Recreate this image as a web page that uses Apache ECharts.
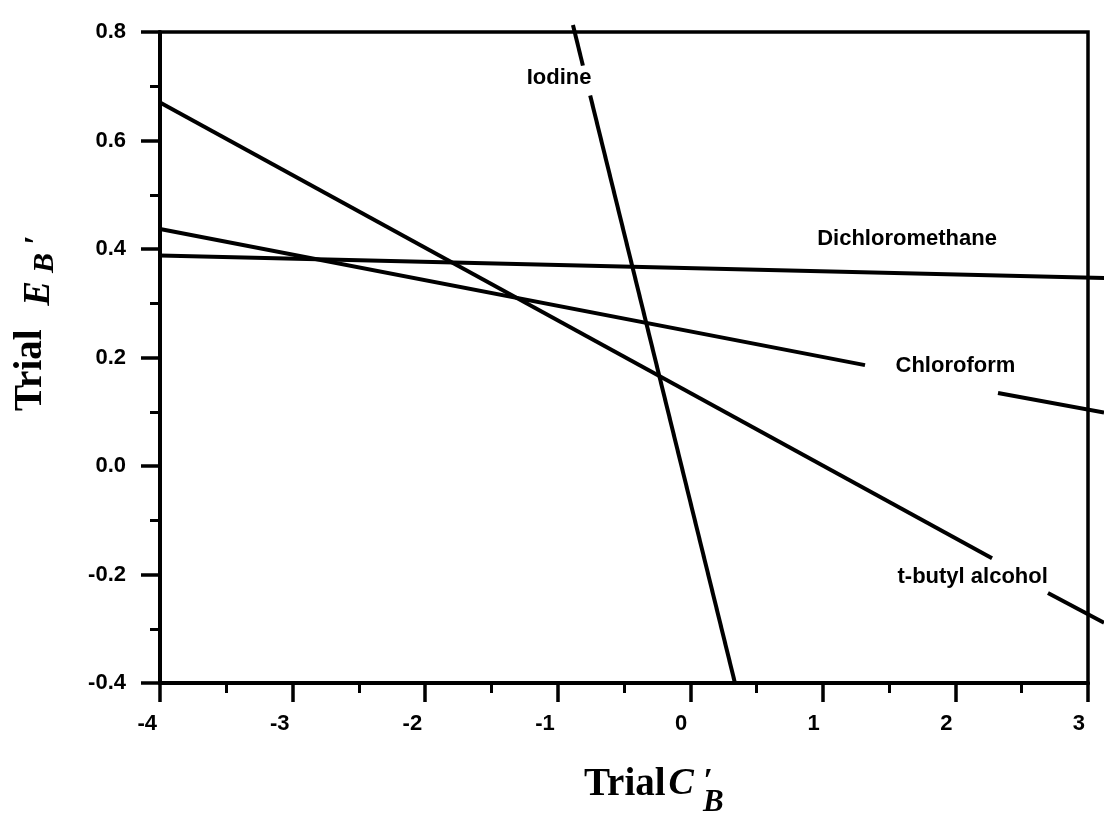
<!DOCTYPE html>
<html><head><meta charset="utf-8">
<script src="https://cdn.jsdelivr.net/npm/echarts@6/dist/echarts.min.js"></script>
<style>html,body{margin:0;padding:0;background:#fff}#c{width:1104px;height:813px}</style>
</head><body><div id="c"></div>
<script>
// axis ranges and tick labels
const xMin = -4, xMax = 3, xStep = 1;
const yMin = -0.4, yMax = 0.8, yStep = 0.2;
const xTickLabels = ['-4', '-3', '-2', '-1', '0', '1', '2', '3'];
const yTickLabels = ['-0.4', '-0.2', '0.0', '0.2', '0.4', '0.6', '0.8'];

// series (straight lines, with gaps (null) where the labels sit)
const seriesNames = ['Iodine', 'Dichloromethane', 'Chloroform', 't-butyl alcohol'];
const iodine = [[-0.885, 0.813], [-0.81, 0.738], [-0.78, null], [-0.755, 0.683], [0.337, -0.4]];
const dichloromethane = [[-4, 0.388], [3.121, 0.3465]];
const chloroform = [[-4, 0.437], [1.318, 0.186], [1.8, null], [2.321, 0.1346], [3.121, 0.0986]];
const tButylAlcohol = [[-4, 0.670], [2.276, -0.170], [2.5, null], [2.698, -0.234], [3.121, -0.289]];

// label anchor positions (data coordinates)
const labelX = [-0.99, 1.635, 2.0, 2.13];
const labelY = [0.715, 0.418, 0.184, -0.205];

const lineData = [iodine, dichloromethane, chloroform, tButylAlcohol];
const sans = '"Liberation Sans", Arial, Helvetica, sans-serif';
const serif = '"Liberation Serif", "Times New Roman", serif';

function splitSegments(arr) {
  const segs = [];
  let cur = [];
  arr.forEach(p => {
    if (p[1] == null) { if (cur.length > 1) segs.push(cur); cur = []; }
    else cur.push(p);
  });
  if (cur.length > 1) segs.push(cur);
  return segs;
}

const chart = echarts.init(document.getElementById('c'), null, {renderer: 'canvas'});

const lineSeries = lineData.map((d, i) => ({
  name: seriesNames[i],
  type: 'lines',
  coordinateSystem: 'cartesian2d',
  polyline: true,
  clip: false,
  silent: true,
  data: splitSegments(d).map(s => ({coords: s})),
  lineStyle: {color: '#000', width: 4, opacity: 1, cap: 'butt'},
  z: 3
}));

const labelSeries = {
  type: 'scatter',
  silent: true,
  symbolSize: 0,
  itemStyle: {opacity: 1, color: '#000'},
  data: seriesNames.map((n, i) => ({name: n, value: [labelX[i], labelY[i]]})),
  label: {
    show: true,
    position: 'inside',
    formatter: p => p.name,
    color: '#000',
    opacity: 1,
    textBorderWidth: 0,
    fontFamily: sans,
    fontWeight: 'bold',
    fontSize: 22
  },
  z: 4
};

const option = {
  backgroundColor: '#fff',
  animation: false,
  grid: {left: 160, right: 16, top: 32, bottom: 130, show: true, borderColor: '#000', borderWidth: 3.5, backgroundColor: 'transparent'},
  xAxis: {
    type: 'value', min: xMin, max: xMax, interval: xStep,
    axisLine: {show: true, onZero: false, lineStyle: {color: '#000', width: 4}},
    axisTick: {show: true, inside: false, length: 19, lineStyle: {color: '#000', width: 3.5}},
    minorTick: {show: true, splitNumber: 2, length: 10, lineStyle: {color: '#000', width: 3}},
    splitLine: {show: false},
    axisLabel: {
      margin: 30, color: '#000', fontFamily: sans, fontWeight: 'bold', fontSize: 22,
      align: 'right', padding: [0, 3, 0, 0],
      formatter: v => xTickLabels[Math.round((v - xMin) / xStep)]
    }
  },
  yAxis: {
    type: 'value', min: yMin, max: yMax, interval: yStep,
    axisLine: {show: true, onZero: false, lineStyle: {color: '#000', width: 4}},
    axisTick: {show: true, inside: false, length: 19, lineStyle: {color: '#000', width: 3.5}},
    minorTick: {show: true, splitNumber: 2, length: 10, lineStyle: {color: '#000', width: 3}},
    splitLine: {show: false},
    axisLabel: {
      margin: 34, color: '#000', fontFamily: sans, fontWeight: 'bold', fontSize: 22,
      formatter: v => yTickLabels[Math.round((v - yMin) / yStep)]
    }
  },
  graphic: [
    {
      type: 'text', x: 584, y: 765, silent: true,
      style: {
        text: '{t|Trial}{c|C}{g| }{p|′}{s|B}',
        align: 'left', verticalAlign: 'top', fill: '#000',
        rich: {
          t: {fontFamily: serif, fontWeight: 'bold', fontSize: 39, lineHeight: 42, verticalAlign: 'top', fill: '#000'},
          c: {fontFamily: serif, fontWeight: 'bold', fontStyle: 'italic', fontSize: 38, lineHeight: 42, verticalAlign: 'top', padding: [0, 0, 0, 3], fill: '#000'},
          g: {fontFamily: serif, fontSize: 10, width: 9, lineHeight: 10, verticalAlign: 'top', fill: '#000'},
          p: {fontFamily: serif, fontWeight: 'bold', fontStyle: 'italic', fontSize: 34, lineHeight: 20, width: 0, align: 'left', verticalAlign: 'top', padding: [0, 0, 0, 0], fill: '#000'},
          s: {fontFamily: serif, fontWeight: 'bold', fontStyle: 'italic', fontSize: 31, lineHeight: 30, padding: [22, 0, 0, 0], verticalAlign: 'top', fill: '#000'}
        }
      }
    },
    {
      type: 'text', x: 11, y: 411, rotation: Math.PI / 2, silent: true,
      style: {
        text: '{t|Trial }{e|E}{s|B}{p|′}',
        align: 'left', verticalAlign: 'top', fill: '#000',
        rich: {
          t: {fontFamily: serif, fontWeight: 'bold', fontSize: 39, lineHeight: 42, verticalAlign: 'top', fill: '#000'},
          e: {fontFamily: serif, fontWeight: 'bold', fontStyle: 'italic', fontSize: 37, lineHeight: 37, padding: [10, 0, 0, 14], verticalAlign: 'top', fill: '#000'},
          s: {fontFamily: serif, fontWeight: 'bold', fontStyle: 'italic', fontSize: 30, lineHeight: 30, padding: [19, 0, 0, 8], verticalAlign: 'top', fill: '#000'},
          p: {fontFamily: serif, fontWeight: 'bold', fontStyle: 'italic', fontSize: 34, lineHeight: 34, padding: [10, 0, 0, 8], verticalAlign: 'top', fill: '#000'}
        }
      }
    }
  ],
  series: [...lineSeries, labelSeries]
};
chart.setOption(option);
</script>
</body></html>
